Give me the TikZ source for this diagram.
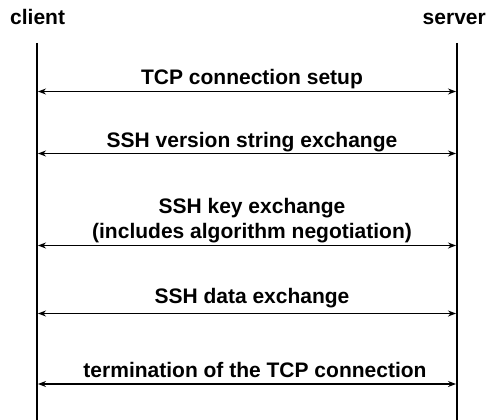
\documentclass[tikz,border=0pt]{standalone}
\usepackage{fontspec}
\setmainfont{Liberation Sans}
\usetikzlibrary{arrows.meta}
\begin{document}
\begin{tikzpicture}[x=1pt,y=-1pt,
  lbl/.style={font=\bfseries\fontsize{21}{25}\selectfont, inner sep=0pt},
  life/.style={line width=2pt},
  msg/.style={line width=1.3pt, {Stealth[length=8pt,width=6pt]}-{Stealth[length=8pt,width=6pt]}}]
\useasboundingbox (0,0) rectangle (488,420);
\node[lbl, anchor=base west] (client) at (10,25) {client};
\node[lbl, anchor=base east] (server) at (486,25) {server};
\coordinate (ct) at (37,43);  \coordinate (cb) at (37,420);
\coordinate (st) at (457,43); \coordinate (sb) at (457,420);
\draw[life] (ct) -- (cb);
\draw[life] (st) -- (sb);
% message end points
\coordinate (c1) at (38,91.5);  \coordinate (s1) at (456,91.5);
\coordinate (c2) at (38,153.5); \coordinate (s2) at (456,153.5);
\coordinate (c3) at (38,245.5); \coordinate (s3) at (456,245.5);
\coordinate (c4) at (38,313.5); \coordinate (s4) at (456,313.5);
\coordinate (c5) at (38,384);   \coordinate (s5) at (456,384);
\draw[msg] (c1) -- (s1);
\draw[msg] (c2) -- (s2);
\draw[msg] (c3) -- (s3);
\draw[msg] (c4) -- (s4);
\draw[msg] (c5) -- (s5);
\node[lbl, anchor=base] (t1) at (252,84.5) {TCP connection setup};
\node[lbl, anchor=base] (t2) at (252,147) {SSH version string exchange};
\node[lbl, anchor=base] (t3a) at (252,213) {SSH key exchange};
\node[lbl, anchor=base] (t3b) at (252,238) {(includes algorithm negotiation)};
\node[lbl, anchor=base] (t4) at (252,303) {SSH data exchange};
\node[lbl, anchor=base] (t5) at (255,377) {termination of the TCP connection};
\end{tikzpicture}
\end{document}
